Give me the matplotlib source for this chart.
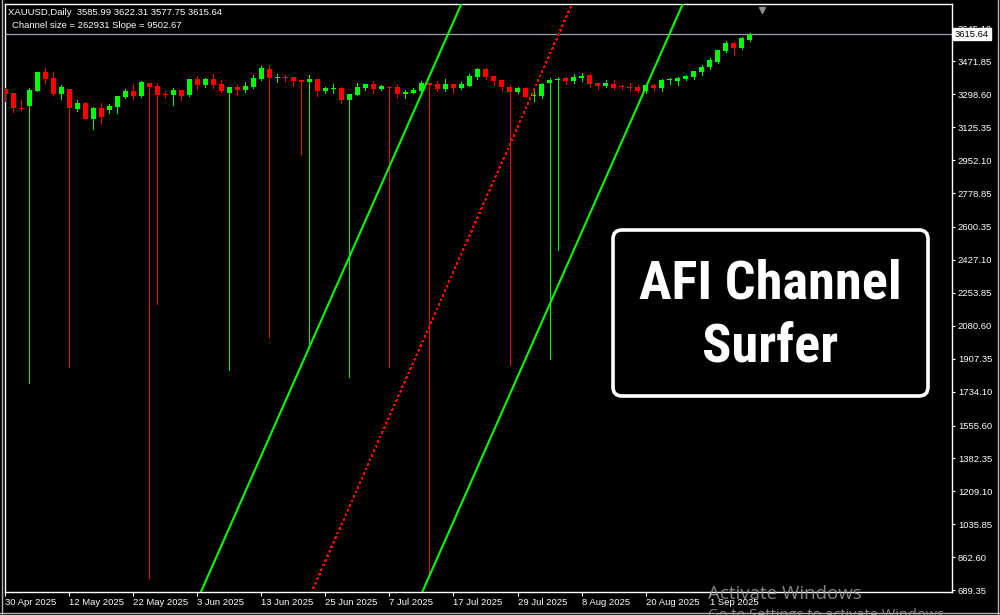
import numpy as np
import pandas as pd
import matplotlib
matplotlib.use("Agg")
import matplotlib.pyplot as plt
from matplotlib.patches import FancyBboxPatch
from matplotlib.lines import Line2D
from matplotlib.transforms import IdentityTransform
from matplotlib import font_manager
from matplotlib.font_manager import FontProperties

# ---------------- data ----------------
symbol_title = "XAUUSD,Daily  3585.99 3622.31 3577.75 3615.64"
channel_text = "Channel size = 262931 Slope = 9502.67"
first_date = "2025-04-30"

opens = [3326.2, 3305.1, 3227.8, 3238.3, 3317.2, 3415.6, 3384.1, 3299.9, 3326.2, 3222.5,
         3252.5, 3169.9, 3226.2, 3215.7, 3233.0, 3284.1, 3315.6, 3289.3, 3357.8, 3342.0,
         3299.9, 3294.6, 3321.0, 3296.2, 3378.8, 3348.8, 3378.8, 3352.5, 3306.7, 3336.7,
         3322.5, 3336.7, 3380.4, 3431.4, 3384.1, 3389.3, 3389.3, 3373.5, 3363.0, 3378.8,
         3317.2, 3327.7, 3331.4, 3269.9, 3296.2, 3331.4, 3352.5, 3327.7, 3338.3, 3336.7,
         3301.4, 3306.7, 3317.2, 3357.8, 3352.5, 3326.2, 3352.5, 3331.4, 3343.5, 3390.9,
         3431.4, 3394.6, 3373.5, 3336.7, 3312.0, 3331.4, 3287.8, 3290.9, 3359.3, 3372.0,
         3382.5, 3368.3, 3384.1, 3399.9, 3357.8, 3343.5, 3352.5, 3340.4, 3338.3, 3335.1,
         3317.2, 3348.8, 3333.0, 3373.5, 3369.9, 3378.8, 3389.3, 3417.2, 3442.0, 3468.3,
         3527.7, 3569.8, 3543.5, 3585.99]

highs = [3331.4, 3307.0, 3268.3, 3331.4, 3418.0, 3435.1, 3415.6, 3347.2, 3328.8, 3268.3,
         3257.7, 3233.0, 3252.5, 3247.2, 3292.0, 3324.6, 3347.2, 3368.3, 3360.4, 3352.5,
         3315.6, 3331.4, 3323.6, 3381.4, 3393.0, 3384.1, 3405.1, 3373.5, 3339.3, 3347.2,
         3363.0, 3399.9, 3447.2, 3452.5, 3405.1, 3399.9, 3392.0, 3376.0, 3399.9, 3381.4,
         3336.7, 3352.5, 3336.7, 3302.5, 3357.8, 3355.0, 3368.3, 3347.2, 3344.6, 3347.2,
         3322.5, 3331.4, 3368.3, 3360.4, 3368.3, 3378.8, 3355.0, 3363.0, 3405.1, 3436.7,
         3436.7, 3397.0, 3376.0, 3347.2, 3336.7, 3336.7, 3315.6, 3357.8, 3384.1, 3389.3,
         3390.9, 3405.1, 3412.0, 3406.7, 3360.4, 3373.5, 3373.5, 3348.8, 3357.8, 3347.2,
         3352.5, 3354.0, 3380.4, 3382.5, 3390.9, 3401.4, 3423.5, 3452.5, 3490.9, 3533.0,
         3580.4, 3575.1, 3601.4, 3622.31]

lows = [3264.6, 3203.5, 3215.7, 1780.4, 3315.6, 3359.3, 3296.2, 3275.1, 1864.6, 3212.0,
        3168.0, 3117.2, 3148.8, 3201.4, 3201.4, 3278.8, 3275.1, 3284.1, 754.2, 2196.2,
        3285.7, 3242.0, 3268.3, 3290.9, 3327.7, 3338.3, 3331.4, 3310.4, 1848.9, 3296.2,
        3312.0, 3333.0, 3375.1, 2022.5, 3363.0, 3368.3, 3342.0, 2985.7, 1963.1, 3290.9,
        3306.7, 3306.7, 3254.1, 1812.0, 3294.6, 3322.5, 3306.7, 3322.5, 1864.6, 3285.7,
        3280.4, 3305.1, 3315.6, 759.4, 3317.2, 3317.2, 3306.7, 3327.7, 3342.0, 3380.4,
        3380.4, 3348.8, 3322.5, 1873.6, 3306.7, 3284.1, 3264.6, 3280.4, 1906.7, 2480.4,
        3354.0, 3359.3, 3369.9, 3338.3, 3327.7, 3336.7, 3327.7, 3327.7, 3322.5, 3310.4,
        3306.7, 3322.5, 3317.2, 3354.0, 3348.8, 3373.5, 3380.4, 3401.4, 3433.0, 3464.6,
        3522.5, 3506.7, 3538.3, 3577.75]

closes = [3298.3, 3224.6, 3222.5, 3321.0, 3415.6, 3380.4, 3299.9, 3336.7, 3224.6, 3252.5,
          3169.9, 3226.2, 3180.4, 3236.7, 3289.3, 3315.6, 3289.3, 3363.0, 3336.7, 3296.2,
          3296.2, 3321.0, 3290.9, 3378.8, 3348.8, 3378.8, 3348.8, 3317.2, 3336.7, 3322.5,
          3342.0, 3384.1, 3436.7, 3384.1, 3389.3, 3385.6, 3368.3, 3364.6, 3378.8, 3317.2,
          3331.4, 3331.4, 3269.9, 3299.9, 3336.7, 3352.5, 3327.7, 3342.0, 3333.0, 3301.4,
          3312.0, 3322.5, 3357.8, 3348.8, 3327.7, 3352.5, 3331.4, 3352.5, 3394.6, 3431.4,
          3390.9, 3368.3, 3336.7, 3312.0, 3331.4, 3285.7, 3296.2, 3352.5, 3373.5, 3378.8,
          3368.3, 3390.9, 3396.2, 3354.0, 3342.0, 3356.2, 3333.0, 3335.1, 3329.9, 3317.2,
          3347.2, 3331.4, 3375.1, 3378.8, 3385.6, 3396.2, 3420.9, 3443.5, 3478.8, 3531.4,
          3569.8, 3543.5, 3596.2, 3615.64]

ytick_values = [3645.10, 3471.85, 3298.60, 3125.35, 2952.10, 2778.85, 2600.35, 2427.10,
                2253.85, 2080.60, 1907.35, 1734.10, 1555.60, 1382.35, 1209.10, 1035.85,
                862.60, 689.35]
current_price = 3615.64

channel_size = 2629.31        # price units
channel_slope = 95.0267       # price per bar
channel_mid_bar0 = -2956.0    # mid-line price at first bar

overlay_line1 = "AFI Channel"
overlay_line2 = "Surfer"
watermark1 = "Activate Windows"
watermark2 = "Go to Settings to activate Windows."

# ---------------- style ----------------
plt.rcParams["font.family"] = ["Liberation Sans", "DejaVu Sans"]
BULL = "#00ff00"
BEAR = "#ff0000"
W, H = 1000, 615

fig = plt.figure(figsize=(W / 100, H / 100), dpi=100, facecolor="black")
ax = fig.add_axes([5 / W, (H - 592) / H, 947 / W, 588 / H])
ax.set_facecolor("black")

o = np.array(opens); h = np.array(highs); l = np.array(lows); c = np.array(closes)
n = len(c)
x = np.arange(n)
cols = [BULL if cc >= oo else BEAR for oo, cc in zip(o, c)]

# wicks (1 px)
ax.vlines(x, l, h, colors=cols, linewidth=0.6, antialiased=False, zorder=3)
# bodies
body_bottom = np.minimum(o, c)
body_h = np.maximum(np.abs(c - o), 5.3)
ax.bar(x, body_h, bottom=body_bottom, width=0.6, color=cols, linewidth=0,
       antialiased=False, zorder=4)

# channel
xs = np.array([-10.0, 130.0])
mid = channel_mid_bar0 + channel_slope * xs
ax.plot(xs, mid + channel_size / 2, color=BULL, lw=1.5, zorder=5)
ax.plot(xs, mid - channel_size / 2, color=BULL, lw=1.5, zorder=5)
ax.plot(xs, mid, color=BEAR, lw=0.8, linestyle=(0, (1.2, 3.4)),
        antialiased=False, zorder=5)

# current price line
ax.axhline(current_price, color="#9ea3ad", lw=0.9, zorder=2)

ax.set_xlim(-0.05, 118.3)
ax.set_ylim(679.9, 3773.5)

for s in ax.spines.values():
    s.set_color("white")
    s.set_linewidth(1.0)

# y axis on right
ax.yaxis.tick_right()
ax.set_yticks(ytick_values)
ax.set_yticklabels([f"{v:.2f}" for v in ytick_values])
ax.tick_params(axis="y", colors="white", length=2.5, width=0.8, pad=1.8,
               labelsize=6.8, labelcolor="white")

# x axis dates
dates = pd.bdate_range(first_date, periods=n)
tick_idx = np.arange(0, n, 8)
tick_labels = [f"{dates[i].day} {dates[i].strftime('%b %Y')}" for i in tick_idx]
ax.set_xticks(tick_idx)
ax.set_xticklabels(tick_labels, ha="left")
ax.tick_params(axis="x", colors="white", length=3, width=0.8, pad=1.2,
               labelsize=6.8, labelcolor="white")

# price label box
ax.annotate(f"{current_price:.2f}", xy=(1.0, current_price),
            xycoords=("axes fraction", "data"), xytext=(2.2, 0),
            textcoords="offset points", ha="left", va="center", fontsize=6.8,
            color="black", zorder=10, annotation_clip=False,
            bbox=dict(boxstyle="square,pad=0.18", fc="white", ec="white"))

# chart shift marker
ax.plot([94.6], [0.99], marker="v", markersize=5, color="#8c8c8c",
        transform=ax.get_xaxis_transform(), clip_on=False, zorder=6)

# header texts
fig.text(8 / W, 1 - 12.5 / H, symbol_title, ha="left", va="center",
         fontsize=6.8, color="white")
fig.text(12 / W, 1 - 25.5 / H, channel_text, ha="left", va="center",
         fontsize=6.8, color="white")

# overlay box
box = FancyBboxPatch((613, H - 396), 315, 166,
                     boxstyle="round,pad=0,rounding_size=9",
                     transform=IdentityTransform(), fc="black", ec="white",
                     lw=2.6, zorder=20)
fig.add_artist(box)


def pick_condensed_bold():
    prefs = ["Liberation Sans Narrow", "Roboto Condensed", "Noto Sans",
             "Open Sans", "DejaVu Sans", "Roboto", "Inter", "Lato"]
    best = None
    for f in font_manager.fontManager.ttflist:
        w = f.weight if isinstance(f.weight, int) else font_manager.weight_dict.get(f.weight, 400)
        st = str(f.stretch).lower()
        nm = f.name.lower()
        cond = ("condensed" in st or "narrow" in nm or "condensed" in nm)
        if not cond or "extra" in st or "ultra" in st or "semi" in st:
            continue
        if f.style != "normal" or w < 600 or w > 800:
            continue
        rank = len(prefs)
        for k, p in enumerate(prefs):
            if f.name.lower().startswith(p.lower()):
                rank = k
                break
        score = (rank, abs(w - 700))
        if best is None or score < best[0]:
            best = (score, f.fname)
    return best[1] if best else None


cond_file = pick_condensed_bold()
if cond_file:
    fp = FontProperties(fname=cond_file, size=40)
else:
    fp = FontProperties(family="DejaVu Sans", weight="bold", size=30)

t1 = fig.text(770 / W, 1 - 298 / H, overlay_line1, ha="center", va="baseline",
              fontproperties=fp, color="white", zorder=21)
t2 = fig.text(770 / W, 1 - 362 / H, overlay_line2, ha="center", va="baseline",
              fontproperties=fp, color="white", zorder=21)
# fit the overlay title to the width it spans in the box
renderer = fig.canvas.get_renderer()
wpx = t1.get_window_extent(renderer).width
new_size = fp.get_size() * 262.0 / wpx
t1.set_fontsize(new_size)
t2.set_fontsize(new_size)

# watermark
fig.text(708 / W, 1 - 599 / H, watermark1, ha="left", va="baseline",
         fontsize=13.5, family=["Open Sans", "DejaVu Sans"], color="#9a9a9a",
         alpha=0.85, zorder=30)
fig.text(708 / W, 1 - 619 / H, watermark2, ha="left", va="baseline",
         fontsize=10.5, family=["Open Sans", "DejaVu Sans"], color="#9a9a9a",
         alpha=0.85, zorder=30)

# window borders
for (x0, y0, x1, y1) in [(1.5, 0, 1.5, 615), (997.5, 0, 997.5, 615), (0, 2.5, 1000, 2.5)]:
    fig.add_artist(Line2D([x0 / W, x1 / W], [y0 / H, y1 / H], color="#b4b4b4",
                          lw=1.0, transform=fig.transFigure))

fig.savefig("out.png", dpi=100, facecolor="black")
